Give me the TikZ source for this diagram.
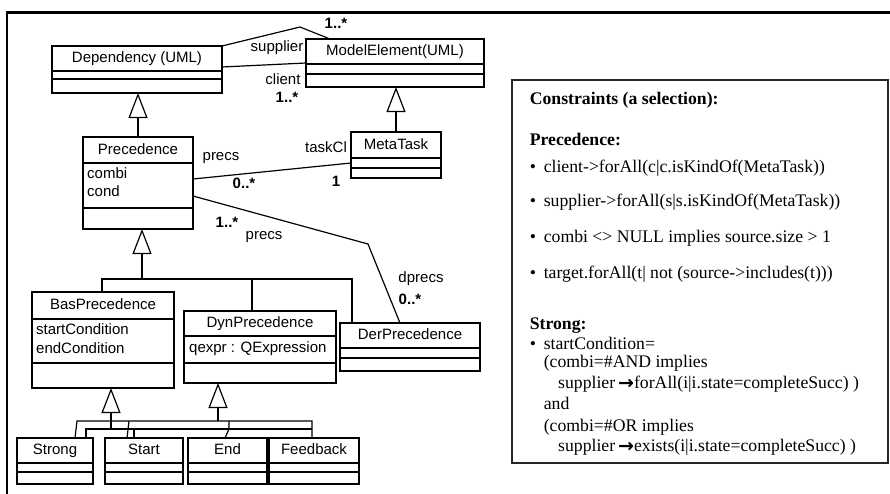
\documentclass[tikz,border=0pt]{standalone}
\usepackage{fontspec}
\setmainfont{Liberation Sans}
\newfontfamily\oclfont{Liberation Serif}
\newfontfamily\arrowfont{DejaVu Sans}
\usetikzlibrary{calc,arrows.meta}

\tikzset{
  cls/.style={draw, line width=1.2pt, inner sep=0pt, outer sep=0pt},
  ctext/.style={font=\fontsize{15}{17}\selectfont, inner sep=0pt, text height=11pt, text depth=3pt},
  cname/.style={ctext},
  cattr/.style={ctext, anchor=west},
  role/.style={ctext},
  mult/.style={ctext, font=\fontsize{15}{17}\selectfont\bfseries},
  assoc/.style={line width=1.2pt},
  genarrow/.style={line width=1.2pt, -{Triangle[open, length=25pt, width=19pt]}},
  ocl/.style={font=\oclfont\fontsize{17.7}{20}\selectfont, inner sep=0pt, anchor=west,
              text height=12pt, text depth=3.5pt},
  oclhead/.style={ocl, font=\oclfont\fontsize{17.7}{20}\selectfont\bfseries},
}

% class box: name, x1, y1, x2, y2, first divider, second divider, title
\newcommand\umlclass[8]{%
  \node[cls, anchor=north west, minimum width={(#4-#2)*1pt}, minimum height={(#5-#3)*1pt}] (#1) at (#2,#3) {};
  \draw[line width=1.2pt] (#1.west |- 0,#6) -- (#1.east |- 0,#6);
  \draw[line width=1.2pt] (#1.west |- 0,#7) -- (#1.east |- 0,#7);
  \node[cname] (#1-name) at ($(#1.north)!0.5!(#1.north |- 0,#6)$) {#8};
}
\newcommand\bul{\makebox[14pt][l]{\textbullet}}
\newcommand\oclarrow{\raisebox{-1pt}{\arrowfont\bfseries\fontsize{19}{20}\selectfont →}}

\begin{document}
\begin{tikzpicture}[x=1pt, y=-1pt]
\path[fill=white, use as bounding box] (0,0) rectangle (890,493);

% outer frame
\draw[line width=2.5pt] (6.8,500) -- (6.8,12.5) -- (900,12.5);

% classes
\umlclass{dep}{52}{46}{222}{93}{71}{79}{Dependency (UML)}
\umlclass{me}{306}{39}{484}{87}{64}{74}{ModelElement(UML)}
\umlclass{prec}{83}{137}{193}{229}{163}{208}{Precedence}
\umlclass{meta}{351}{132}{441}{178}{158}{168}{MetaTask}
\umlclass{bas}{32}{292}{174}{388}{319}{363}{BasPrecedence}
\umlclass{dyn}{184}{311}{336}{383}{336}{363}{DynPrecedence}
\umlclass{der}{340}{323}{480}{371}{348}{358}{DerPrecedence}
\umlclass{strong}{17}{438}{93}{484}{463}{472}{Strong}
\umlclass{start}{105}{438}{183}{484}{463}{472}{Start}
\umlclass{end}{188}{438}{267}{484}{463}{472}{End}
\umlclass{feedback}{269}{438}{359}{484}{463}{472}{Feedback}

% attributes
\node[cattr] (a-combi) at (87,174) {combi};
\node[cattr] (a-cond) at (87,192) {cond};
\node[cattr] (a-start) at (36,330) {startCondition};
\node[cattr] (a-end) at (36,349) {endCondition};
\node[cattr] (a-qexpr) at (189,348) {qexpr : QExpression};

% associations Dependency -- ModelElement
\coordinate (supbend) at (300,27);
\draw[assoc] (dep.north east) -- (supbend) -- (me.north -| 330,0);
\draw[assoc] (dep.east |- 0,67) -- (me.west |- 0,63);
\node[role] (l-supplier) at (277,47) {supplier};
\node[mult] (m-sup) at (336,24) {1..*};
\node[role] (l-client) at (283,80) {client};
\node[mult] (m-cli) at (287,98) {1..*};

% Precedence -- MetaTask
\draw[assoc] (prec.east |- 0,179) -- (meta.west |- 0,163);
\node[role] (l-precs1) at (221,156) {precs};
\node[mult] (m-precs1) at (244,184) {0..*};
\node[role] (l-taskcl) at (326,148) {taskCl};
\node[mult] (m-task) at (336,182) {1};

% Precedence -- DerPrecedence
\coordinate (dpbend) at (368,244);
\draw[assoc] (prec.east |- 0,196) -- (dpbend) -- (der.north -| 400,0);
\node[mult] (m-precs2) at (227,223) {1..*};
\node[role] (l-precs2) at (264,235) {precs};
\node[role] (l-dprecs) at (421,278) {dprecs};
\node[mult] (m-dprecs) at (410,300) {0..*};

% generalizations to the UML classes
\draw[genarrow] (prec.north) -- (prec.north |- dep.south);
\draw[genarrow] (meta.north) -- (meta.north |- me.south);

% Precedence subclasses
\coordinate (pj) at (142,279);
\draw[genarrow] (pj) -- (pj |- prec.south);
\draw[assoc] (bas.north -| 102,0) -- (102,279) -- (352,279) -- (der.north -| 352,0);
\draw[assoc] (252,279) -- (dyn.north -| 252,0);

% BasPrecedence subclasses (lower bar)
\coordinate (bj) at (111,429);
\draw[genarrow] (bj) -- (bj |- bas.south);
\draw[assoc] (strong.north -| 86,0) -- (86,429) -- (312,429);
\draw[assoc] (134,429) -- (start.north -| 134,0);

% DynPrecedence subclasses (upper bar)
\coordinate (dj) at (218,421);
\draw[genarrow] (dj) -- (dj |- dyn.south);
\draw[assoc] (strong.north -| 75,0) -- (77,421) -- (312,421) -- (feedback.north -| 312,0);
\draw[assoc] (129,421) -- (start.north -| 127,0);
\draw[assoc] (229,421) -- (229,429) -- (end.north -| 225,0);

% constraints panel
\node[draw=black!85, line width=1.3pt, inner sep=0pt, outer sep=0pt, anchor=north west,
      minimum width=376pt, minimum height=383pt] (cbox) at (512,80) {};
\node[oclhead] (c1) at (529.6,100.5) {Constraints (a selection):};
\node[oclhead] (c2) at (529.6,141.5) {Precedence:};
\node[ocl] (c3) at (529.6,168) {\bul client->forAll(c|c.isKindOf(MetaTask))};
\node[ocl] (c4) at (529.6,202.5) {\bul supplier->forAll(s|s.isKindOf(MetaTask))};
\node[ocl] (c5) at (529.6,238.5) {\bul combi <> NULL implies source.size > 1};
\node[ocl] (c6) at (529.6,274) {\bul target.forAll(t| not (source->includes(t)))};
\node[oclhead] (c7) at (529.6,325) {Strong:};
\node[ocl] (c8) at (529.6,345) {\bul startCondition=};
\node[ocl] (c9) at (543.6,363.5) {(combi=\#AND implies};
\node[ocl] (c10) at (558,384) {supplier\,\oclarrow forAll(i|i.state=completeSucc) )};
\node[ocl] (c11) at (543.6,405.5) {and};
\node[ocl] (c12) at (543.6,427) {(combi=\#OR implies};
\node[ocl] (c13) at (558,447) {supplier\,\oclarrow exists(i|i.state=completeSucc) )};
\end{tikzpicture}
\end{document}
